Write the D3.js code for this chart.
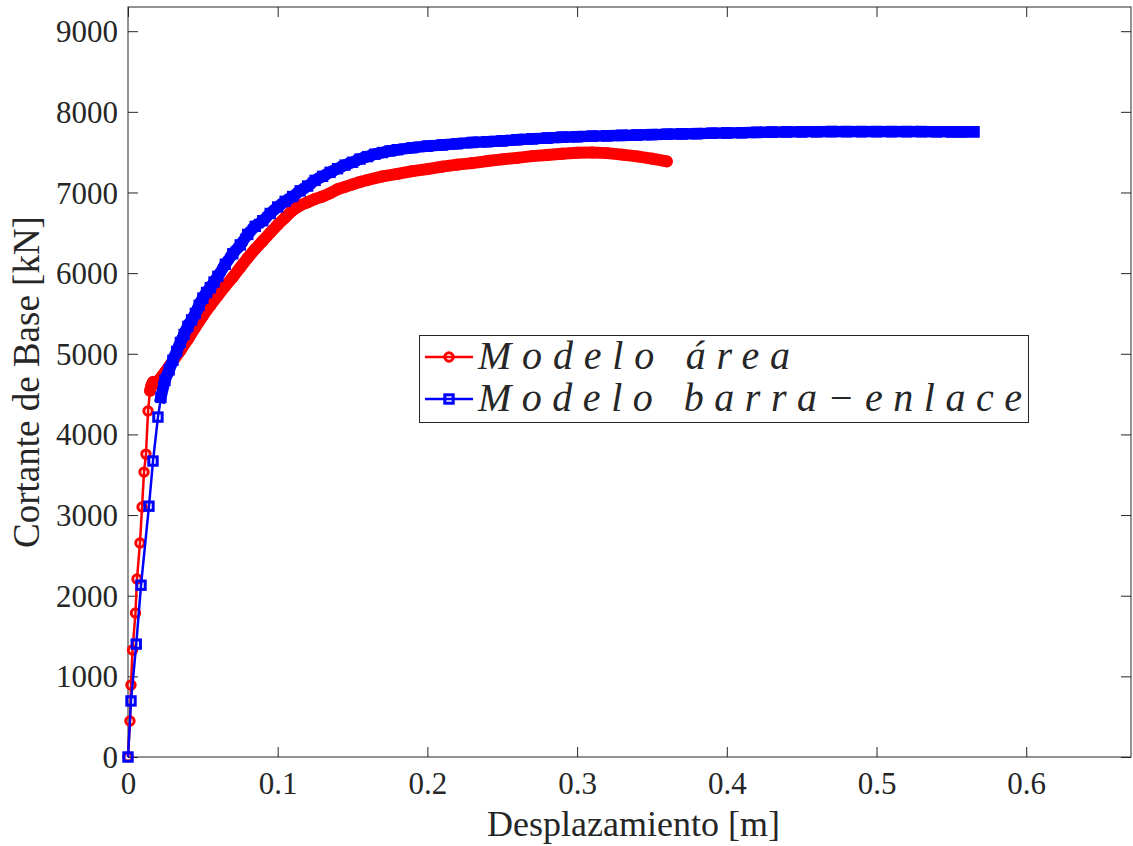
<!DOCTYPE html>
<html>
<head>
<meta charset="utf-8">
<script src="https://cdn.jsdelivr.net/npm/d3@7"></script>
<style>
  html, body { margin: 0; padding: 0; background: #fff; }
  svg { display: block; }
  text { font-family: "Liberation Serif", "DejaVu Serif", serif; fill: #262626; }
</style>
</head>
<body>
<svg id="chart" width="1133" height="846"></svg>
<script>
// ---------------- data ----------------
const xTicks = [0, 0.1, 0.2, 0.3, 0.4, 0.5, 0.6];
const yTicks = [0, 1000, 2000, 3000, 4000, 5000, 6000, 7000, 8000, 9000];
const xTickLabels = ["0", "0.1", "0.2", "0.3", "0.4", "0.5", "0.6"];
const yTickLabels = ["0", "1000", "2000", "3000", "4000", "5000", "6000", "7000", "8000", "9000"];
const seriesNames = ["Modelo  área", "Modelo  barra\u2212enlace"];
const xLabel = "Desplazamiento [m]";
const yLabel = "Cortante de Base [kN]";

// Modelo área (red, circles)
const areaX = [0, 0.0013, 0.002, 0.003, 0.005, 0.006, 0.008, 0.0094, 0.0107, 0.012, 0.0134,
  0.0147, 0.0157, 0.0167, 0.018, 0.0195, 0.021, 0.025, 0.030, 0.035, 0.040, 0.045, 0.050,
  0.055, 0.060, 0.065, 0.070, 0.075, 0.080, 0.085, 0.090, 0.095, 0.100, 0.105, 0.110, 0.115,
  0.120, 0.125, 0.130, 0.135, 0.140, 0.145, 0.150, 0.155, 0.160, 0.170, 0.180, 0.190, 0.200,
  0.210, 0.220, 0.230, 0.240, 0.250, 0.260, 0.270, 0.280, 0.290, 0.300, 0.310, 0.320, 0.330,
  0.340, 0.350, 0.360];
const areaY = [0, 446, 892, 1326, 1785, 2207, 2653, 3100, 3533, 3756, 4290,
  4540, 4610, 4650, 4630, 4650, 4680, 4780, 4910, 5040, 5180, 5330, 5470,
  5600, 5720, 5840, 5950, 6070, 6190, 6300, 6400, 6500, 6600, 6690, 6780, 6840,
  6880, 6920, 6950, 6990, 7040, 7070, 7100, 7130, 7155, 7200, 7230, 7265, 7290,
  7320, 7345, 7365, 7390, 7410, 7430, 7450, 7465, 7480, 7492, 7495, 7488, 7470,
  7448, 7420, 7385];

// Modelo barra-enlace (blue, squares)
const barraX = [0, 0.002, 0.0055, 0.0087, 0.014, 0.0167, 0.020, 0.022, 0.0247,
  0.0275, 0.030, 0.0325, 0.035, 0.0375, 0.040, 0.0425, 0.045, 0.0475, 0.050, 0.0525, 0.055,
  0.0575, 0.060, 0.065, 0.070, 0.075, 0.080, 0.085, 0.090, 0.095, 0.100, 0.105, 0.110, 0.115,
  0.120, 0.125, 0.130, 0.135, 0.140, 0.145, 0.150, 0.155, 0.160, 0.165, 0.170, 0.175, 0.180,
  0.190, 0.200, 0.210, 0.220, 0.230, 0.240, 0.250, 0.260, 0.270, 0.280, 0.290, 0.300, 0.310,
  0.320, 0.330, 0.340, 0.350, 0.360, 0.370, 0.380, 0.390, 0.400, 0.410, 0.420, 0.430, 0.440,
  0.450, 0.460, 0.470, 0.480, 0.490, 0.500, 0.510, 0.520, 0.530, 0.540, 0.550, 0.557, 0.565];
const barraY = [0, 695, 1400, 2130, 3110, 3670, 4215, 4460, 4670,
  4800, 4920, 5030, 5140, 5240, 5340, 5420, 5500, 5600, 5690, 5760, 5820,
  5890, 5960, 6110, 6240, 6350, 6480, 6580, 6650, 6740, 6820, 6890, 6950, 7020,
  7080, 7150, 7200, 7250, 7295, 7340, 7375, 7415, 7445, 7475, 7495, 7515, 7530,
  7555, 7575, 7590, 7605, 7620, 7630, 7640, 7655, 7665, 7675, 7685, 7692, 7698,
  7703, 7708, 7712, 7718, 7722, 7726, 7730, 7734, 7738, 7741, 7745, 7748, 7752,
  7753, 7754, 7755, 7755, 7755, 7755, 7755, 7755, 7755, 7754, 7753, 7752, 7752];

const xDomain = [0, 0.67];
const yDomain = [0, 9300];

// ---------------- layout ----------------
const L = 128, R = 1131, T = 7, B = 757;
const svg = d3.select("#chart");
const x = d3.scaleLinear().domain(xDomain).range([L, R]);
const y = d3.scaleLinear().domain(yDomain).range([B, T]);
const axisColor = "#262626";
const tickLen = 10;
const tickFont = 31;

const series = [
  { name: seriesNames[0], xs: areaX, ys: areaY, color: "#ff0000", marker: "circle" },
  { name: seriesNames[1], xs: barraX, ys: barraY, color: "#0000ff", marker: "square" }
];

// ---------------- axes ----------------
const gx = svg.append("g").attr("transform", `translate(0,${B})`)
  .call(d3.axisBottom(x).tickValues(xTicks).tickSize(-tickLen).tickPadding(0)
    .tickFormat((d, i) => xTickLabels[i]));
const gxTop = svg.append("g").attr("transform", `translate(0,${T})`)
  .call(d3.axisTop(x).tickValues(xTicks).tickSize(-tickLen).tickFormat(""));
const gy = svg.append("g").attr("transform", `translate(${L},0)`)
  .call(d3.axisLeft(y).tickValues(yTicks).tickSize(-tickLen).tickPadding(0)
    .tickFormat((d, i) => yTickLabels[i]));
const gyRight = svg.append("g").attr("transform", `translate(${R},0)`)
  .call(d3.axisRight(y).tickValues(yTicks).tickSize(-tickLen).tickFormat(""));

[gx, gxTop, gy, gyRight].forEach(g => {
  g.select(".domain").remove();
  g.selectAll(".tick line").attr("stroke", axisColor).attr("stroke-width", 1);
});
gx.selectAll(".tick text")
  .attr("y", 37).attr("dy", 0)
  .style("font-size", tickFont + "px")
  .style("font-family", "'Liberation Serif', serif")
  .attr("fill", axisColor);
gy.selectAll(".tick text")
  .attr("x", -10).attr("dy", "0.34em")
  .style("font-size", tickFont + "px")
  .style("font-family", "'Liberation Serif', serif")
  .attr("fill", axisColor);

// box
svg.append("rect")
  .attr("x", L).attr("y", T).attr("width", R - L).attr("height", B - T)
  .attr("fill", "none").attr("stroke", axisColor).attr("stroke-width", 1);

// axis titles
svg.append("text")
  .attr("x", (L + R) / 2 + 4).attr("y", 836)
  .attr("text-anchor", "middle")
  .style("font-size", "36px")
  .text(xLabel);
svg.append("text")
  .attr("transform", `translate(39,${(T + B) / 2}) rotate(-90)`)
  .attr("text-anchor", "middle")
  .style("font-size", "37px")
  .text(yLabel);

// ---------------- series ----------------
const lineGen = d3.line().x(d => x(d[0])).y(d => y(d[1]));
const markerR = 4.2;
const markerStroke = 3;
const mergeDist = 18; // markers closer than this merge visually into a band

function drawMarker(g, px, py, s) {
  if (s.marker === "circle") {
    g.append("circle").attr("cx", px).attr("cy", py).attr("r", markerR)
      .attr("fill", "none").attr("stroke", s.color).attr("stroke-width", markerStroke);
  } else {
    g.append("rect").attr("x", px - markerR).attr("y", py - markerR)
      .attr("width", markerR * 2).attr("height", markerR * 2)
      .attr("fill", "none").attr("stroke", s.color).attr("stroke-width", markerStroke);
  }
}

series.forEach(s => {
  const pts = s.xs.map((v, i) => [v, s.ys[i]]);
  const g = svg.append("g");
  const bandW = markerR * 2 + markerStroke;
  for (let i = 1; i < pts.length; i++) {
    const dx = x(pts[i][0]) - x(pts[i - 1][0]);
    const dy = y(pts[i][1]) - y(pts[i - 1][1]);
    if (Math.hypot(dx, dy) < mergeDist) {
      g.append("path").attr("d", lineGen([pts[i - 1], pts[i]]))
        .attr("fill", "none").attr("stroke", s.color)
        .attr("stroke-width", s.marker === "circle" ? bandW + 0.5 : bandW)
        .attr("stroke-linecap", s.marker === "circle" ? "round" : "square")
        .attr("stroke-linejoin", "round");
    }
  }
  g.append("path").attr("d", lineGen(pts))
    .attr("fill", "none").attr("stroke", s.color).attr("stroke-width", 2.5)
    .attr("stroke-linejoin", "round");
  pts.forEach(p => drawMarker(g, x(p[0]), y(p[1]), s));
});

// ---------------- legend ----------------
const lg = svg.append("g");
lg.append("rect").attr("x", 419.5).attr("y", 335.5).attr("width", 609).attr("height", 87)
  .attr("fill", "#fff").attr("stroke", axisColor).attr("stroke-width", 1);
const rowY = [357, 399];
const textLen = [312, 544];
series.forEach((s, i) => {
  const yy = rowY[i];
  lg.append("line").attr("x1", 425).attr("x2", 473).attr("y1", yy).attr("y2", yy)
    .attr("stroke", s.color).attr("stroke-width", 2.5);
  drawMarker(lg, 449, yy, s);
  lg.append("text")
    .attr("x", 478).attr("y", yy + 12)
    .style("font-size", "40px").style("font-style", "italic")
    .attr("fill", "#000")
    .attr("textLength", textLen[i]).attr("lengthAdjust", "spacing")
    .text(s.name);
});
</script>
</body>
</html>
